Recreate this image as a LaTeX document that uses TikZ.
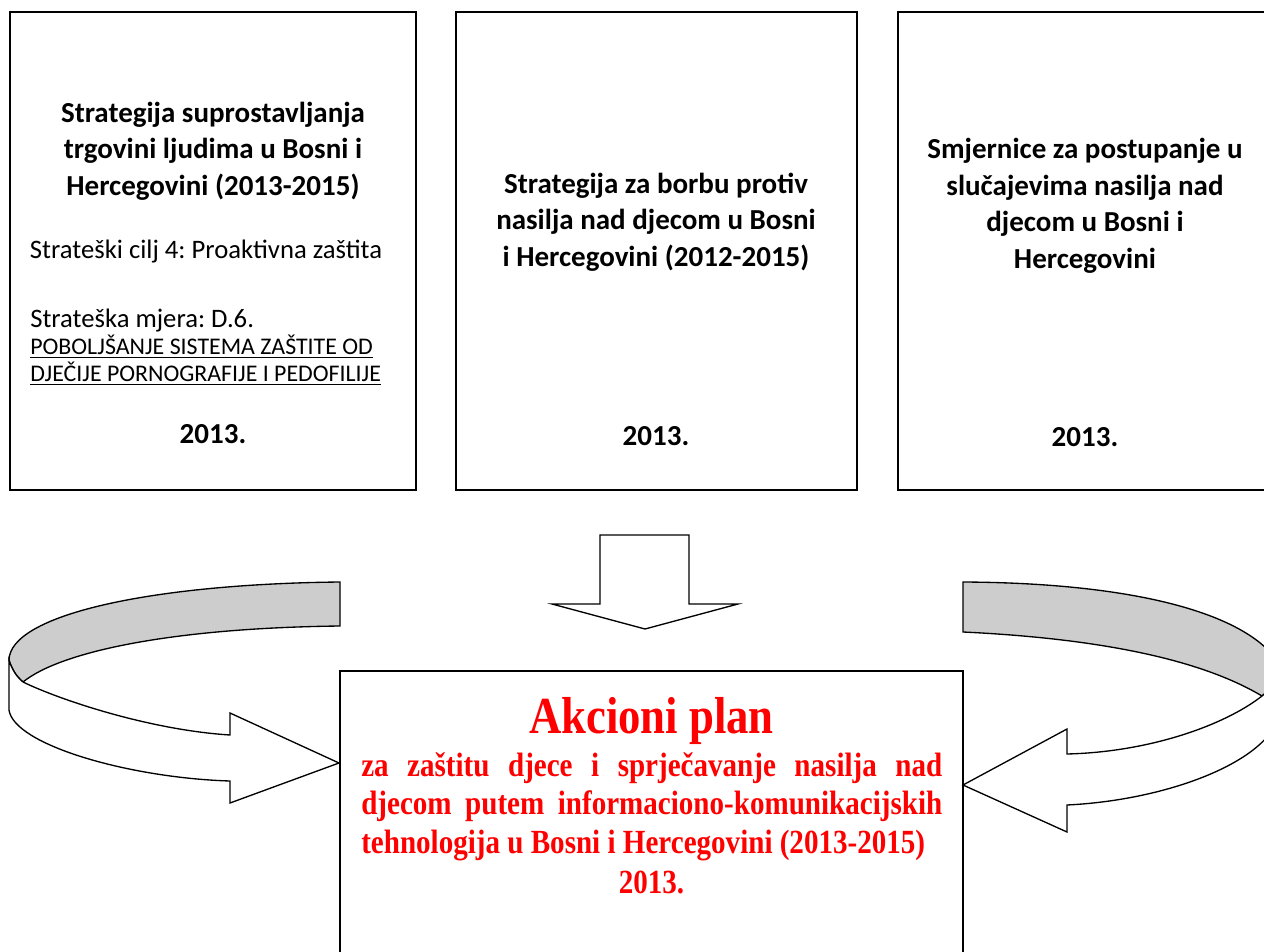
\documentclass[tikz,border=0pt]{standalone}
\usepackage{fontspec}
\setmainfont{Carlito}
\newfontfamily\redserif[FakeStretch=0.86]{Liberation Serif}
\usetikzlibrary{positioning}
\definecolor{bandgray}{RGB}{205,205,205}
\newcommand{\capsline}[1]{{\fontsize{17.9}{20.25}\selectfont\underline{#1}}}
\frenchspacing

\begin{document}
\begin{tikzpicture}[x=0.75pt, y=-0.75pt,
  frame/.style={line width=1.4pt},
  band/.style={line width=1pt, line join=miter},
  titletext/.style={inner sep=0, align=center, font=\fontsize{21.75}{27.4}\selectfont\bfseries},
  plaintext/.style={inner sep=0, align=left, font=\fontsize{20}{20.25}\selectfont},
  yeartext/.style={inner sep=0, font=\fontsize{21.75}{27.4}\selectfont\bfseries},
  headtext/.style={inner sep=0, text=red, font=\fontsize{39}{44}\redserif\bfseries},
  aimtext/.style={inner sep=0, text=red, text width=435.75pt, align=justify, font=\fontsize{25.35}{28.9}\redserif\bfseries}]

\useasboundingbox (0,0) rectangle (1264,952);
\clip (0,0) rectangle (1264,952);

% --- Top row: source documents ---
\draw[frame] (10,12) rectangle (416,490);
\draw[frame] (456,12) rectangle (857,490);
\draw[frame] (898,12) rectangle (1268,490);

\node[titletext] (trafficking) at (213,151) {Strategija suprostavljanja\\trgovini ljudima u Bosni i\\Hercegovini (2013-2015)};
\node[plaintext] (goal) at (206,252) {Strateški cilj 4: Proaktivna zaštita};
\node[plaintext, anchor=west] (measure) at (30,347) {Strateška mjera: D.6.\\\capsline{POBOLJŠANJE SISTEMA ZAŠTITE OD}\\\capsline{DJEČIJE PORNOGRAFIJE I PEDOFILIJE}};
\node[yeartext] (year1) at (213,434) {2013.};

\node[titletext] (violence) at (656,222) {Strategija za borbu protiv\\nasilja nad djecom u Bosni\\i Hercegovini (2012-2015)};
\node[yeartext] (year2) at (656,436) {2013.};

\node[titletext] (guidelines) at (1085,206) {Smjernice za postupanje u\\slučajevima nasilja nad\\djecom u Bosni i\\Hercegovini};
\node[yeartext] (year3) at (1085,437) {2013.};

% --- Block arrow down ---
\draw[band] (600,535) -- (689,535) -- (689,604) -- (738,604) -- (645,629) -- (552,604) -- (600,604) -- cycle;

% --- Curved arrow from the left ---
\filldraw[band, fill=bandgray] (340,582) .. controls (150,584) and (10,615) .. (9,660)
  .. controls (12,670) and (17,677) .. (23,682)
  .. controls (60,652) and (170,628) .. (340,626) -- cycle;
\filldraw[band, fill=white] (9,660) .. controls (12,670) and (17,677) .. (23,682)
  .. controls (60,700) and (150,730) .. (230,735) -- (230,713) -- (339,763) -- (230,803) -- (230,781)
  .. controls (130,778) and (14,745) .. (9,710) -- cycle;

% --- Curved arrow from the right ---
\filldraw[band, fill=bandgray] (963,582) .. controls (1140,583) and (1250,615) .. (1280,665)
  .. controls (1277,680) and (1270,690) .. (1262,696)
  .. controls (1215,668) and (1130,640) .. (963,632) -- cycle;
\filldraw[band, fill=white] (1280,665) .. controls (1277,680) and (1270,690) .. (1262,696)
  .. controls (1225,725) and (1150,752) .. (1067,754) -- (1067,729) -- (963,785) -- (1067,832) -- (1067,805)
  .. controls (1170,800) and (1272,760) .. (1280,712) -- cycle;

% --- Action plan ---
\draw[frame] (340,671) rectangle (963,960);
\node[headtext, anchor=base] (plan) at (651.5,733) {Akcioni plan};
\node[aimtext, anchor=north west] (aim) at (361,752) {\tolerance=10000\hyphenpenalty=10000\exhyphenpenalty=10000
  za zaštitu djece i sprječavanje nasilja nad\linebreak djecom putem informaciono-komunikacijskih\linebreak tehnologija u Bosni i Hercegovini (2013-2015)};
\node[aimtext, text width=, align=center, anchor=base] (year4) at (651.5,893) {2013.};

\end{tikzpicture}
\end{document}
